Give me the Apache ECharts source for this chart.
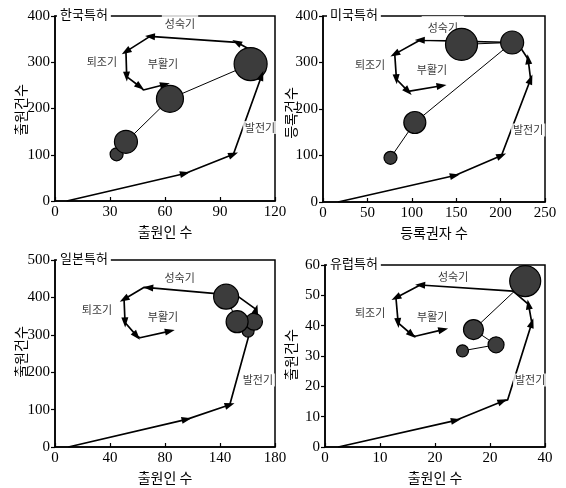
<!DOCTYPE html>
<html><head><meta charset="utf-8">
<script src="https://cdn.jsdelivr.net/npm/echarts@6/dist/echarts.min.js"></script>
<style>html,body{margin:0;padding:0;background:#fff}#c{width:566px;height:488px}</style>
</head><body><div id="c"></div>
<script>
// ---- data ----
const panelTitles = ['한국특허', '미국특허', '일본특허', '유럽특허'];
const xAxisNames = ['출원인 수', '등록권자 수', '출원인 수', '출원인 수'];
const yAxisNames = ['출원건수', '등록건수', '출원건수', '출원건수'];
const stageNames = ['발전기', '성숙기', '퇴조기', '부활기'];

const xTickLabels = [
  ['0', '30', '60', '90', '120'],
  ['0', '50', '100', '150', '200', '250'],
  ['0', '40', '80', '140', '180'],
  ['0', '10', '20', '20', '40']
];
const yTickLabels = [
  ['0', '100', '200', '300', '400'],
  ['0', '100', '200', '300', '400'],
  ['0', '100', '200', '300', '400', '500'],
  ['0', '10', '20', '30', '40', '50', '60']
];
const xRanges = [[0, 120, 30], [0, 250, 50], [0, 180, 45], [0, 40, 10]];
const yRanges = [[0, 400, 100], [0, 400, 100], [0, 500, 100], [0, 60, 10]];

// life-cycle paths (x, y)
const koreaPath = [[6.4,0],[70.9,59.5],[97.3,101],[112.7,271],[112,315],[99.1,343],[51.8,356],[38.7,323],[39.1,269],[46.4,247],[48.2,240],[60,252]];
const usPath = [[16.9,0],[148.5,57],[201,100],[233.8,264],[231,307],[220,339],[213,343],[109,348],[80.8,318],[82.7,264],[95.9,238],[133.5,250]];
const japanPath = [[10.9,0],[107.7,74],[143,113],[164.5,368],[150,402],[129.5,411],[76.3,426],[73,427],[56.5,395],[57.3,333],[66.8,297],[69.5,292],[94,310]];
const europePath = [[2.4,0],[23.8,8.8],[32.3,15.1],[33.2,15.5],[37.6,40.9],[37,47],[34.2,51.4],[17.3,53.4],[12.9,49.2],[13.3,40.9],[15.8,37],[16.4,36.5],[21.5,38.7]];

// path vertices that carry an arrowhead
const koreaArrows = [1,2,3,5,6,7,8,9,11];
const usArrows = [1,2,3,4,7,8,9,10,11];
const japanArrows = [1,2,3,6,8,9,10,12];
const europeArrows = [1,2,4,5,7,8,9,10,12];

// bubbles (x, y, magnitude)
const koreaBubbles = [[33.6,101,13],[38.7,128,23],[62.7,221,27],[106.7,296,33]];
const usBubbles = [[76,95,13],[103.4,171,22],[213,343,23],[156,339,32]];
const japanBubbles = [[158,310,12],[162.8,335,17],[149,335,22],[140,402,25]];
const europeBubbles = [[25,31.7,12],[31.1,33.7,16],[27,38.7,20],[36.4,54.7,31]];

// stage label anchors in data units: 발전기, 성숙기, 퇴조기, 부활기
const koreaStages = [[111.8,159],[68.2,383],[25.6,302],[58.9,296]];
const usStages = [[231,155],[135,374],[53,295],[122.7,284]];
const japanStages = [[166,179],[102,452],[34.4,366],[88.4,348]];
const europeStages = [[37.3,22.1],[23.3,56],[8.2,44.2],[19.5,42.9]];

const paths = [koreaPath, usPath, japanPath, europePath];
const arrows = [koreaArrows, usArrows, japanArrows, europeArrows];
const bubbles = [koreaBubbles, usBubbles, japanBubbles, europeBubbles];
const stages = [koreaStages, usStages, japanStages, europeStages];

// ---- layout / style ----
const grids = [
  {left: 55, top: 16, width: 220, height: 185},
  {left: 323, top: 16, width: 222, height: 186},
  {left: 55, top: 260, width: 220, height: 187},
  {left: 325, top: 265, width: 220, height: 182}
];
const titlePos = [[57, 6], [327, 6], [57, 250], [327, 255]];
const yNamePos = [[21, 110], [291, 113], [21, 352], [291, 355]];
const matPad = [[6,3,1,3],[12,6,1,6],[1,2,1,2],[1,2,1,2]];

const SERIF = 'Liberation Serif';
const KR = 'Noto Sans CJK KR';

const chart = echarts.init(document.getElementById('c'), null, {renderer: 'canvas'});

const option = {
  animation: false,
  backgroundColor: '#fff',
  textStyle: {fontFamily: SERIF},
  title: panelTitles.map((t, i) => ({
    text: t, left: titlePos[i][0], top: titlePos[i][1],
    backgroundColor: '#fff', padding: [2, 3, 2, 3],
    textStyle: {fontFamily: KR, fontSize: 13, fontWeight: 'normal', color: '#000'}
  })),
  graphic: yAxisNames.map((t, i) => ({
    type: 'text', x: yNamePos[i][0], y: yNamePos[i][1], rotation: Math.PI / 2,
    style: {text: t, fontFamily: KR, fontSize: 14, fill: '#000', align: 'center', verticalAlign: 'middle'}
  })),
  grid: grids.map(g => Object.assign({show: true, borderColor: '#000', borderWidth: 1.5, backgroundColor: 'transparent'}, g)),
  xAxis: xRanges.map((r, i) => ({
    type: 'value', gridIndex: i, min: r[0], max: r[1], interval: r[2],
    name: xAxisNames[i], nameLocation: 'middle', nameGap: 24,
    nameTextStyle: {fontFamily: KR, fontSize: 14, color: '#000'},
    axisLine: {show: true, lineStyle: {color: '#000', width: 1.5}},
    axisTick: {show: true, inside: true, length: 4, lineStyle: {color: '#000', width: 1.2}},
    axisLabel: {margin: 4, color: '#000', fontSize: 15, fontFamily: SERIF,
      formatter: v => xTickLabels[i][Math.round((v - r[0]) / r[2])]},
    splitLine: {show: false}
  })),
  yAxis: yRanges.map((r, i) => ({
    type: 'value', gridIndex: i, min: r[0], max: r[1], interval: r[2],
    axisLine: {show: true, lineStyle: {color: '#000', width: 1.5}},
    axisTick: {show: true, inside: false, length: 4, lineStyle: {color: '#000', width: 1.2}},
    axisLabel: {margin: 5, color: '#000', fontSize: 15, fontFamily: SERIF,
      formatter: v => yTickLabels[i][Math.round((v - r[0]) / r[2])]},
    splitLine: {show: false}
  })),
  series: []
};

for (let i = 0; i < 4; i++) {
  option.series.push({
    type: 'line', xAxisIndex: i, yAxisIndex: i, data: paths[i], symbol: 'none',
    lineStyle: {color: '#000', width: 1.7}, z: 2, silent: true
  });
  option.series.push({
    type: 'scatter', xAxisIndex: i, yAxisIndex: i, z: 2, silent: true,
    symbolSize: 1, itemStyle: {color: 'rgba(0,0,0,0)'},
    data: stages[i].map((p, k) => ({
      value: p,
      label: {
        show: true, position: 'inside', formatter: stageNames[k],
        fontFamily: KR, fontSize: 11, color: '#000',
        backgroundColor: '#fff',
        padding: k === 1 ? matPad[i] : [1, 2, 1, 2]
      }
    }))
  });
  option.series.push({
    type: 'line', xAxisIndex: i, yAxisIndex: i, data: bubbles[i].map(b => [b[0], b[1]]),
    symbol: 'none', lineStyle: {color: '#000', width: 1}, z: 3, silent: true
  });
  option.series.push({
    type: 'scatter', xAxisIndex: i, yAxisIndex: i, data: bubbles[i], z: 3, silent: true,
    symbolSize: d => d[2],
    itemStyle: {color: '#3c3c3c', opacity: 1, borderColor: '#000', borderWidth: 1.2}
  });
  option.series.push({
    id: 'arrows' + i,
    type: 'scatter', xAxisIndex: i, yAxisIndex: i, z: 4, silent: true,
    symbol: 'triangle', symbolSize: [7, 10], itemStyle: {color: '#000', opacity: 1},
    data: arrows[i].map(k => paths[i][k])
  });
}

chart.setOption(option);

// orient arrowheads along the path direction (in pixel space)
const upd = [];
for (let i = 0; i < 4; i++) {
  upd.push({
    id: 'arrows' + i,
    data: arrows[i].map(k => {
      const p = chart.convertToPixel({gridIndex: i}, paths[i][k]);
      const q = chart.convertToPixel({gridIndex: i}, paths[i][k - 1]);
      const ang = Math.atan2(-(p[1] - q[1]), p[0] - q[0]) * 180 / Math.PI;
      return {value: paths[i][k], symbolRotate: ang - 90};
    })
  });
}
chart.setOption({series: upd});
</script>
</body></html>
